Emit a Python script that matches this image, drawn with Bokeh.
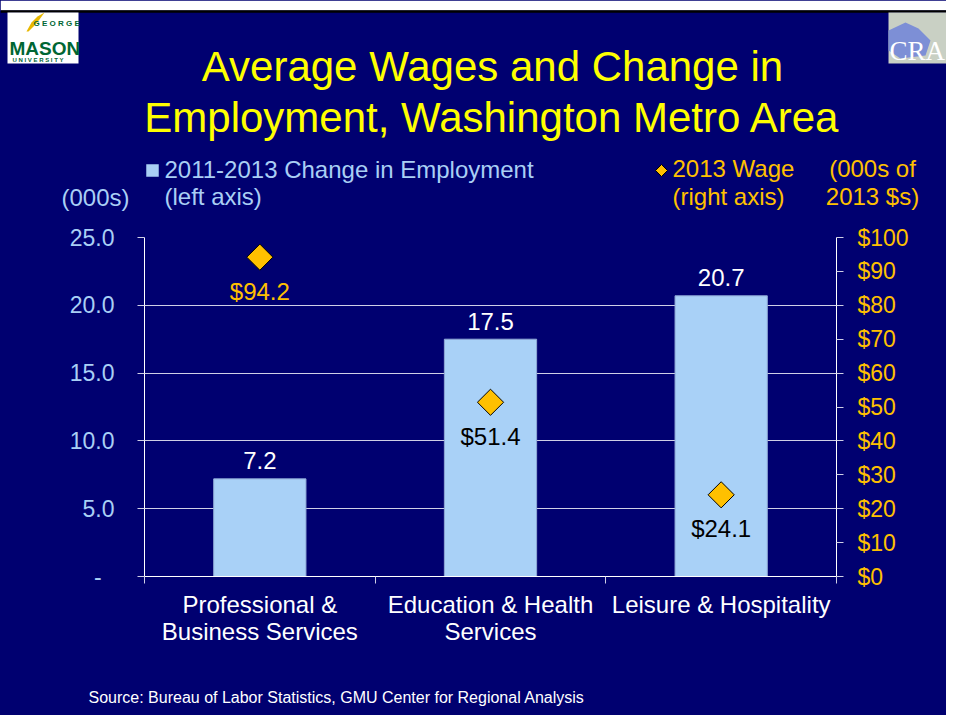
import math
from bokeh.plotting import figure
from bokeh.layouts import column
from bokeh.models import ColumnDataSource, Range1d, LinearAxis, FixedTicker
from bokeh.core.properties import value
from bokeh.embed import file_html
from bokeh.resources import INLINE

# ---------------- data ----------------
categories = ["Professional &\nBusiness Services", "Education & Health\nServices", "Leisure & Hospitality"]
emp_change = [7.2, 17.5, 20.7]      # 2011-2013 change in employment (000s)
wage_2013 = [94.2, 51.4, 24.1]      # 2013 average wage (000s of 2013 $)
emp_ticks = [0, 5, 10, 15, 20, 25]
wage_ticks = [0, 10, 20, 30, 40, 50, 60, 70, 80, 90, 100]

title_lines = ["Average Wages and Change in", "Employment, Washington Metro Area"]
legend_emp = ["2011-2013 Change in Employment", "(left axis)"]
legend_wage = ["2013 Wage", "(right axis)"]
left_unit = "(000s)"
right_unit = ["(000s of", "2013 $s)"]
source_note = "Source: Bureau of Labor Statistics, GMU Center for Regional Analysis"

# ---------------- style ----------------
BG = "#000070"
BAR = "#A9D1F7"
BAR_EDGE = "#8FA9D6"
GOLD = "#FFC000"
LIGHT = "#A9CFF5"
GRID = "#CFCFE6"
GREEN = "#006633"
FONT = "Liberation Sans"
SHIFT = 0.375          # baseline correction for text glyphs (fraction of font size)

W = 946
H1, H2, H3 = 215, 450, 50          # header, chart, footer heights
FL, FR, FT, FB = 144, 836, 237, 576  # plot frame in page pixels

n = len(categories)
xs = [i + 0.5 for i in range(n)]
ymax = emp_ticks[-1]
wmax = wage_ticks[-1]


def no_align(f):
    try:
        f.frame_align = False
    except (AttributeError, ValueError):
        pass


def canvas(h):
    f = figure(width=W, height=h, x_range=Range1d(0, W), y_range=Range1d(h, 0),
               output_backend="svg", toolbar_location=None, x_axis_type=None, y_axis_type=None,
               min_border=0, background_fill_color=BG, border_fill_color=BG, outline_line_color=None)
    f.grid.visible = False
    no_align(f)
    return f


def txt(f, text, x, baseline, size, color, align="left", font=FONT, style="normal"):
    f.text(x=[x], y=[baseline - SHIFT * size], text=[text], text_font=value(font),
           text_font_size=value(f"{size}px"), text_color=color, text_align=align,
           text_baseline="alphabetic", text_font_style=style)


# ---------------- header ----------------
hd = canvas(H1)
hd.quad(left=[0], right=[W], top=[0], bottom=[10], fill_color="white", line_color=None)
hd.segment(x0=[0], y0=[11], x1=[W], y1=[11], line_color="black", line_width=2.5)

txt(hd, title_lines[0], 492, 82, 42, "#FFFF00", "center")
txt(hd, title_lines[1], 492, 133, 42, "#FFFF00", "center")

hd.scatter(x=[152], y=[170], marker="square", size=12.5, fill_color=LIGHT, line_color=None)
txt(hd, legend_emp[0], 164, 178, 24, LIGHT)
txt(hd, legend_emp[1], 164, 205, 24, LIGHT)
txt(hd, left_unit, 129, 206, 24, LIGHT, "right")

hd.scatter(x=[661], y=[170], marker="square", angle=math.pi / 4, size=8.5,
           fill_color=GOLD, line_color="black", line_width=1)
txt(hd, legend_wage[0], 672, 177, 24, GOLD)
txt(hd, legend_wage[1], 672, 205, 24, GOLD)
txt(hd, right_unit[0], 872, 177, 24, GOLD, "center")
txt(hd, right_unit[1], 872, 205, 24, GOLD, "center")

# George Mason logo (approximation)
hd.quad(left=[7], right=[78], top=[12], bottom=[63], fill_color="white", line_color=None)
hd.patch(x=[26, 31, 37, 44, 39, 33, 28], y=[31, 22, 16, 12, 19, 26, 31], fill_color="#E8B800", line_color=None)
txt(hd, "G E O R G E", 33, 26, 8, GREEN, style="bold")
txt(hd, "MASON", 9, 55, 19, GREEN, style="bold")
txt(hd, "U N I V E R S I T Y", 12, 62, 6, GREEN, style="bold")

# CRA logo (approximation)
hd.quad(left=[888], right=[W], top=[12], bottom=[63], fill_color="#C9D0C4", line_color=None)
hd.patch(x=[888, 905, 918, 930, 925, 900, 888], y=[30, 22, 28, 40, 55, 58, 50], fill_color="#7D8FD6", line_color=None)
txt(hd, "CRA", 889, 61, 27, "white", font="Liberation Serif")

# ---------------- chart ----------------
p = figure(width=W, height=H2, x_range=Range1d(0, n), y_range=Range1d(0, ymax),
           output_backend="svg", toolbar_location=None,
           min_border_left=FL, min_border_right=W - FR,
           min_border_top=FT - H1, min_border_bottom=H1 + H2 - FB,
           background_fill_color=BG, border_fill_color=BG, outline_line_color=None)
no_align(p)
p.extra_y_ranges = {"wage": Range1d(0, wmax)}

yl = p.yaxis[0]
yl.ticker = FixedTicker(ticks=emp_ticks)
yl.major_label_overrides = {t: ("-" + "\u00a0" * 2 if t == 0 else f"{t:.1f}") for t in emp_ticks}
yl.axis_line_color = "white"
yl.major_tick_line_color = GRID
yl.major_tick_out = 7
yl.major_tick_in = 0
yl.minor_tick_line_color = None
yl.major_label_text_font = FONT
yl.major_label_text_font_size = "23px"
yl.major_label_text_color = LIGHT
yl.major_label_standoff = 23

p.ygrid.ticker = yl.ticker
p.ygrid.grid_line_color = GRID
p.xgrid.grid_line_color = None

yr = LinearAxis(y_range_name="wage", ticker=FixedTicker(ticks=wage_ticks),
                major_label_overrides={t: f"${t}" for t in wage_ticks},
                axis_line_color="white", major_tick_line_color=GRID,
                major_tick_out=7, major_tick_in=0, minor_tick_line_color=None,
                major_label_text_font=FONT, major_label_text_font_size="23px",
                major_label_text_color=GOLD, major_label_standoff=14)
p.add_layout(yr, "right")

xb = p.xaxis[0]
xb.ticker = FixedTicker(ticks=xs, minor_ticks=list(range(n + 1)))
xb.major_label_overrides = dict(zip(xs, categories))
xb.major_tick_line_color = None
xb.major_tick_out = 0
xb.major_tick_in = 0
xb.minor_tick_line_color = GRID
xb.minor_tick_out = 7
xb.minor_tick_in = 0
xb.axis_line_color = "white"
xb.major_label_text_font = FONT
xb.major_label_text_font_size = "24px"
xb.major_label_text_color = "white"
xb.major_label_text_line_height = 1.0
xb.major_label_standoff = 7

ratio = wmax / ymax
src = ColumnDataSource(dict(
    x=xs, emp=emp_change, wage=wage_2013,
    emp_txt=[f"{v:.1f}" for v in emp_change],
    wage_txt=[f"${v:.1f}" for v in wage_2013],
    wage_col=[GOLD if w / ratio > e else "black" for e, w in zip(emp_change, wage_2013)],
))

p.vbar(x="x", top="emp", width=0.4, source=src, fill_color=BAR, line_color=BAR_EDGE, line_width=1)
p.scatter(x="x", y="wage", source=src, y_range_name="wage", marker="square", angle=math.pi / 4,
          size=18.5, fill_color=GOLD, line_color="black", line_width=1)
p.text(x="x", y="emp", text="emp_txt", source=src, text_align="center", text_baseline="alphabetic",
       y_offset=-(9 + SHIFT * 24), text_color="white", text_font=value(FONT), text_font_size=value("24px"))
p.text(x="x", y="wage", text="wage_txt", source=src, y_range_name="wage", text_align="center",
       text_baseline="alphabetic", y_offset=43 - SHIFT * 24, text_color="wage_col",
       text_font=value(FONT), text_font_size=value("24px"))

# ---------------- footer ----------------
ft = canvas(H3)
txt(ft, source_note, 88, 703 - H1 - H2, 16, "white")

layout = column(hd, p, ft, spacing=0, styles={"background-color": BG})
open("out.html", "w").write(file_html(layout, INLINE))
